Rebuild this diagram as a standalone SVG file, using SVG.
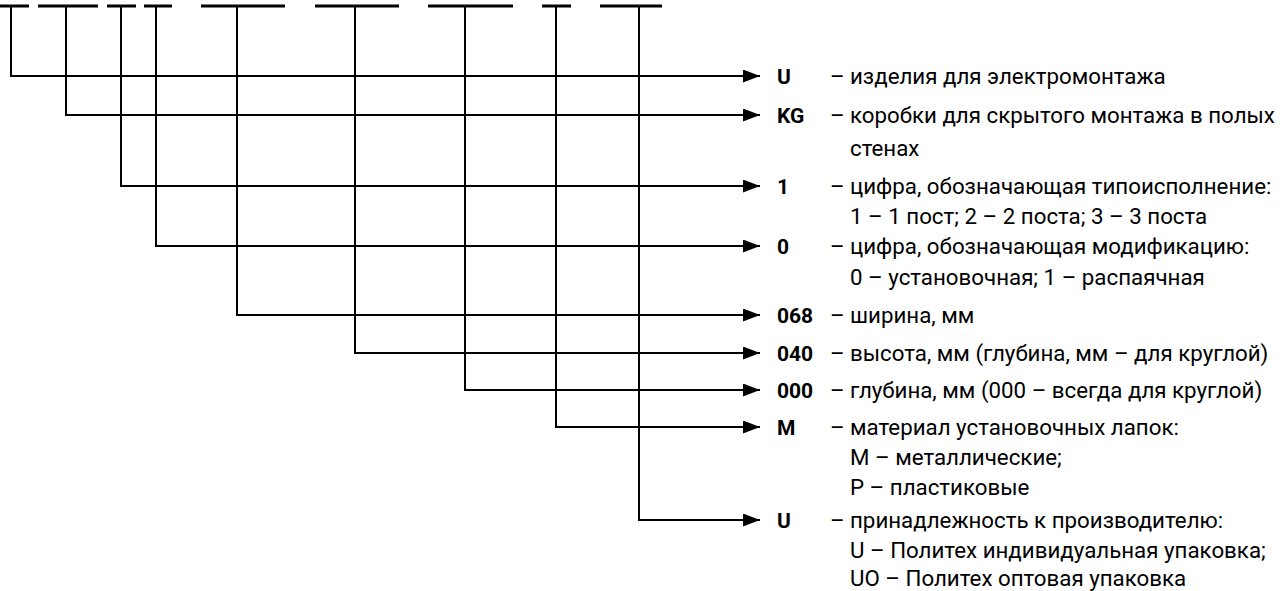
<svg xmlns="http://www.w3.org/2000/svg" width="1287" height="591" viewBox="0 0 1287 591">
<style>
.bar{stroke:#000;stroke-width:3;fill:none}
.con{stroke:#000;stroke-width:2;fill:none}
.code{font-family:Roboto,"Liberation Sans",sans-serif;font-weight:bold;font-size:21px;fill:#000}
.desc{font-family:Roboto,"Liberation Sans",sans-serif;font-size:22.3px;fill:#000}
</style>
<defs>
<marker id="ah" markerUnits="userSpaceOnUse" markerWidth="18" markerHeight="13" refX="17" refY="6.5" orient="auto">
<path d="M0,0 L17,6.5 L0,13 Z" fill="#000"/>
</marker>
</defs>
<rect width="1287" height="591" fill="#fff"/>
<g id="slots">
<g id="slot-1"><line class="bar" x1="0" y1="6" x2="29" y2="6"/></g>
<g id="slot-2"><line class="bar" x1="38" y1="6" x2="98" y2="6"/></g>
<g id="slot-3"><line class="bar" x1="107" y1="6" x2="136" y2="6"/></g>
<g id="slot-4"><line class="bar" x1="144" y1="6" x2="172" y2="6"/></g>
<g id="slot-5"><line class="bar" x1="201" y1="6" x2="285" y2="6"/></g>
<g id="slot-6"><line class="bar" x1="315" y1="6" x2="399" y2="6"/></g>
<g id="slot-7"><line class="bar" x1="428" y1="6" x2="513" y2="6"/></g>
<g id="slot-8"><line class="bar" x1="542" y1="6" x2="571" y2="6"/></g>
<g id="slot-9"><line class="bar" x1="600" y1="6" x2="662" y2="6"/></g>
</g>
<g id="connectors">
<path class="con" marker-end="url(#ah)" d="M11,6 V76 H760"/>
<path class="con" marker-end="url(#ah)" d="M66,6 V115 H760"/>
<path class="con" marker-end="url(#ah)" d="M121,6 V186 H760"/>
<path class="con" marker-end="url(#ah)" d="M156,6 V246 H760"/>
<path class="con" marker-end="url(#ah)" d="M237,6 V315 H760"/>
<path class="con" marker-end="url(#ah)" d="M355,6 V353 H760"/>
<path class="con" marker-end="url(#ah)" d="M465,6 V390 H760"/>
<path class="con" marker-end="url(#ah)" d="M556,6 V427 H760"/>
<path class="con" marker-end="url(#ah)" d="M639,6 V520 H760"/>
</g>
<g id="item-U">
<text class="code" x="777" y="84">U</text>
<text class="desc" y="84"><tspan x="830">–</tspan><tspan x="850">изделия для электромонтажа</tspan></text>
</g>
<g id="item-KG">
<text class="code" x="777" y="123">KG</text>
<text class="desc" y="123"><tspan x="830">–</tspan><tspan x="850">коробки для скрытого монтажа в полых</tspan></text>
<text class="desc" x="850" y="156">стенах</text>
</g>
<g id="item-1">
<text class="code" x="777" y="194">1</text>
<text class="desc" y="194"><tspan x="830">–</tspan><tspan x="850">цифра, обозначающая типоисполнение:</tspan></text>
<text class="desc" x="850" y="224">1 – 1 пост; 2 – 2 поста; 3 – 3 поста</text>
</g>
<g id="item-0">
<text class="code" x="777" y="254">0</text>
<text class="desc" y="254"><tspan x="830">–</tspan><tspan x="850">цифра, обозначающая модификацию:</tspan></text>
<text class="desc" x="850" y="285">0 – установочная; 1 – распаячная</text>
</g>
<g id="item-068">
<text class="code" x="777" y="323">068</text>
<text class="desc" y="323"><tspan x="830">–</tspan><tspan x="850">ширина, мм</tspan></text>
</g>
<g id="item-040">
<text class="code" x="777" y="361">040</text>
<text class="desc" y="361"><tspan x="830">–</tspan><tspan x="850">высота, мм (глубина, мм – для круглой)</tspan></text>
</g>
<g id="item-000">
<text class="code" x="777" y="398">000</text>
<text class="desc" y="398"><tspan x="830">–</tspan><tspan x="850">глубина, мм (000 – всегда для круглой)</tspan></text>
</g>
<g id="item-M">
<text class="code" x="777" y="435">M</text>
<text class="desc" y="435"><tspan x="830">–</tspan><tspan x="850">материал установочных лапок:</tspan></text>
<text class="desc" x="850" y="465">М – металлические;</text>
<text class="desc" x="850" y="495">Р – пластиковые</text>
</g>
<g id="item-U2">
<text class="code" x="777" y="528">U</text>
<text class="desc" y="528"><tspan x="830">–</tspan><tspan x="850">принадлежность к производителю:</tspan></text>
<text class="desc" x="850" y="558">U – Политех индивидуальная упаковка;</text>
<text class="desc" x="850" y="586">UO – Политех оптовая упаковка</text>
</g>
</svg>
